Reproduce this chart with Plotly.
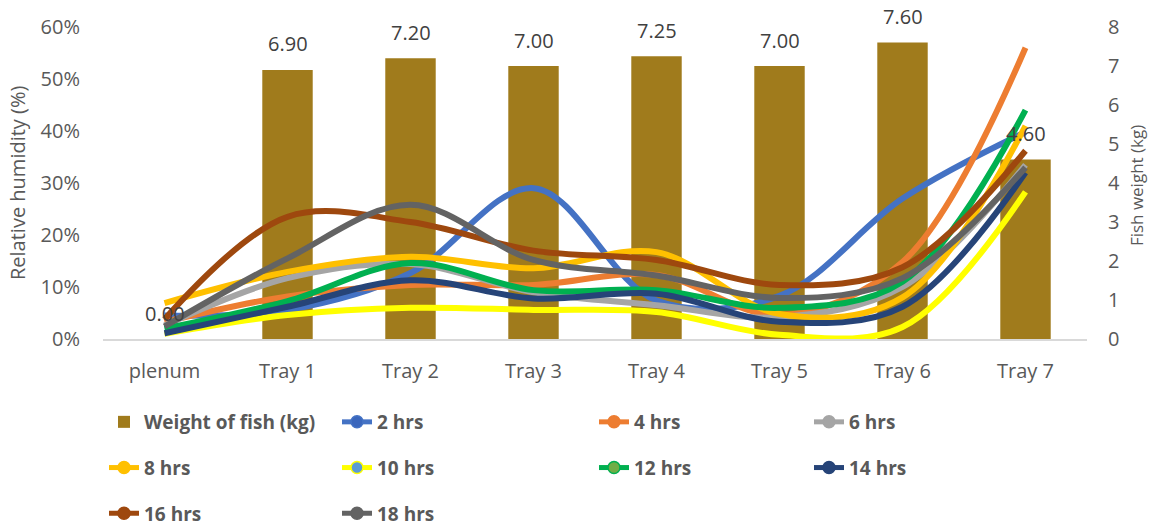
import plotly.graph_objects as go

# Positions along the dryer
categories = ["plenum", "Tray 1", "Tray 2", "Tray 3", "Tray 4", "Tray 5", "Tray 6", "Tray 7"]

# Fish weight per tray (kg)
weight_kg = [0.00, 6.90, 7.20, 7.00, 7.25, 7.00, 7.60, 4.60]

# Relative humidity (%) at each position, per drying time
rh_2h = [4.5, 5.6, 12.7, 29.0, 7.4, 8.3, 27.0, 39.8]
rh_4h = [3.3, 8.2, 10.4, 10.4, 12.3, 4.6, 14.8, 56.0]
rh_6h = [2.6, 11.7, 14.4, 9.0, 6.5, 4.2, 10.0, 33.5]
rh_8h = [6.9, 12.9, 15.8, 13.6, 16.7, 4.8, 8.0, 41.0]
rh_10h = [1.0, 4.6, 6.0, 5.6, 5.2, 0.8, 2.3, 28.3]
rh_12h = [2.0, 7.3, 14.6, 9.4, 9.4, 6.0, 11.0, 44.0]
rh_14h = [1.1, 6.2, 11.3, 7.8, 8.7, 3.3, 6.2, 32.0]
rh_16h = [3.8, 23.5, 22.5, 17.0, 15.2, 10.4, 13.8, 36.2]
rh_18h = [2.4, 15.5, 25.8, 15.2, 12.2, 7.9, 11.7, 33.0]

series_names = ["2 hrs", "4 hrs", "6 hrs", "8 hrs", "10 hrs", "12 hrs", "14 hrs", "16 hrs", "18 hrs"]
series_values = [rh_2h, rh_4h, rh_6h, rh_8h, rh_10h, rh_12h, rh_14h, rh_16h, rh_18h]
line_colors = ["#4472C4", "#ED7D31", "#A5A5A5", "#FFC000", "#FFFF00",
               "#00B050", "#264478", "#9E480E", "#636363"]
marker_fill = ["#3A66BC", "#ED7D31", "#A5A5A5", "#FFC000", "#5B9BD5",
               "#70AD47", "#264478", "#9E480E", "#636363"]
# which legend column each series sits in
legend_slot = ["legend2", "legend3", "legend4", "legend", "legend2",
               "legend3", "legend4", "legend", "legend2"]

BAR_COLOR = "#A07B1C"
TICK_COLOR = "#595959"
FONT = "Open Sans"

W, H = 1162, 527
M_L, M_R, M_T, M_B = 103, 75, 27, 188
PLOT_W = W - M_L - M_R


def plot_x(px):
    """Convert a page x position into a plot-area (paper) fraction."""
    return (px - M_L) / PLOT_W


fig = go.Figure()

# Bars: fish weight on the primary (right-hand) axis
fig.add_trace(go.Bar(
    x=categories, y=weight_kg, name="Weight of fish (kg)",
    marker=dict(color=BAR_COLOR, line=dict(width=0)),
    width=0.41, yaxis="y", legend="legend", legendgroup="w",
))

# Smoothed humidity curves on the overlaying (left-hand) axis
for name, vals, col in zip(series_names, series_values, line_colors):
    fig.add_trace(go.Scatter(
        x=categories, y=vals, name=name, mode="lines",
        line=dict(color=col, width=6, shape="spline", smoothing=1.0),
        yaxis="y2", showlegend=False, hoverinfo="x+y+name",
    ))

# Legend entries with the line-and-marker key
for name, col, mf, slot in zip(series_names, line_colors, marker_fill, legend_slot):
    fig.add_trace(go.Scatter(
        x=[None], y=[None], name=name, mode="lines+markers",
        line=dict(color=col, width=5),
        marker=dict(color=mf, size=12, line=dict(color=col, width=1.5)),
        yaxis="y2", legend=slot, legendgroup=name, showlegend=True,
    ))

# Weight labels above the bars
for c, w in zip(categories, weight_kg):
    fig.add_annotation(
        x=c, y=w, xref="x", yref="y", text=f"{w:.2f}", showarrow=False,
        yshift=26, font=dict(family=FONT, size=20, color="#404040"),
    )

# Axis titles
fig.add_annotation(
    x=plot_x(17), y=0.5, xref="paper", yref="paper", text="Relative humidity (%)",
    textangle=-90, showarrow=False, xanchor="center", yanchor="middle",
    font=dict(family=FONT, size=20, color=TICK_COLOR),
)
fig.add_annotation(
    x=plot_x(1136), y=0.49, xref="paper", yref="paper", text="Fish weight (kg)",
    textangle=-90, showarrow=False, xanchor="center", yanchor="middle",
    font=dict(family=FONT, size=17, color=TICK_COLOR),
)

legend_common = dict(
    orientation="v", xref="container", yref="container",
    xanchor="left", yanchor="top",
    font=dict(family=FONT, size=19, color=TICK_COLOR, weight="bold"),
    bgcolor="rgba(0,0,0,0)", tracegroupgap=18, itemclick=False,
)
legend_top = 1 - 403 / H

fig.update_layout(
    width=W, height=H,
    margin=dict(l=M_L, r=M_R, t=M_T, b=M_B, autoexpand=False),
    paper_bgcolor="white", plot_bgcolor="white",
    font=dict(family=FONT, color=TICK_COLOR),
    barmode="overlay",
    xaxis=dict(
        type="category", range=[-0.5, 7.5], showgrid=False, automargin=False,
        showline=True, linecolor="#D9D9D9", linewidth=2,
        ticks="", tickangle=0, tickfont=dict(family=FONT, size=20, color=TICK_COLOR),
        ticklabelstandoff=13,
    ),
    yaxis=dict(
        side="right", range=[0, 8], dtick=1, showgrid=False, zeroline=False,
        automargin=False,
        tickfont=dict(family=FONT, size=20, color=TICK_COLOR),
        ticklabelstandoff=20,
    ),
    yaxis2=dict(
        overlaying="y", side="left", range=[0, 60], dtick=10, ticksuffix="%",
        showgrid=False, zeroline=False, automargin=False,
        tickfont=dict(family=FONT, size=20, color=TICK_COLOR),
        ticklabelstandoff=22,
    ),
    legend=dict(x=104 / W, y=legend_top, **legend_common),
    legend2=dict(x=337 / W, y=legend_top, **legend_common),
    legend3=dict(x=594 / W, y=legend_top, **legend_common),
    legend4=dict(x=809 / W, y=legend_top, **legend_common),
    showlegend=True,
)

fig.write_html("out.html")
